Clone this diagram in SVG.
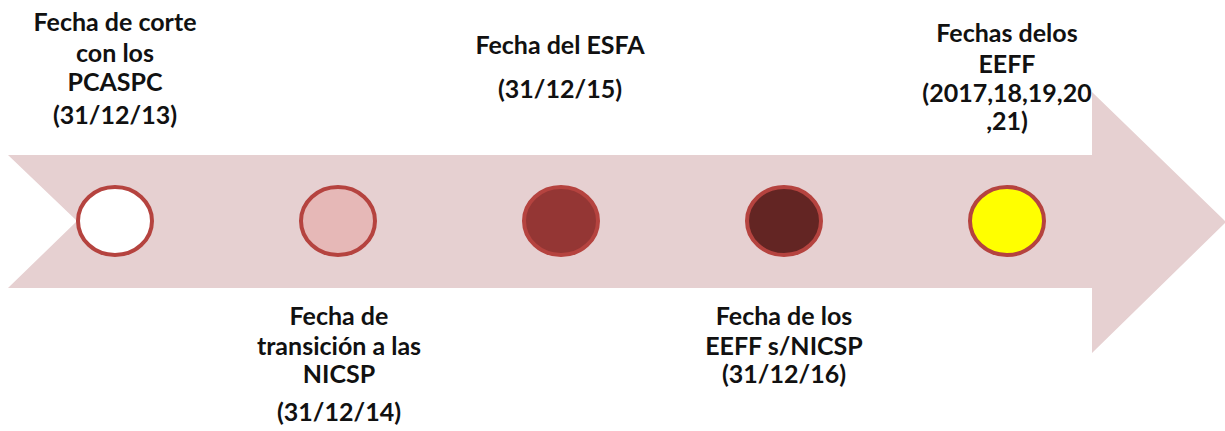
<svg xmlns="http://www.w3.org/2000/svg" width="1225" height="431" viewBox="0 0 1225 431">
<style>
  .lbl { font-family: Lato, "Open Sans", "Liberation Sans", sans-serif; font-weight: bold; font-size: 25px; fill: #111; text-anchor: middle; }
  .dot { stroke: #b5433f; stroke-width: 4; }
</style>
<rect width="1225" height="431" fill="#ffffff"/>
<g id="arrow">
  <polygon points="8,155 1092,155 1092,92 1226,222 1092,353 1092,288 8,288 77,221" fill="#e6d0d1"/>
</g>
<g id="connectors"></g>
<g id="node1">
  <ellipse class="dot" cx="115" cy="221" rx="37" ry="34" fill="#ffffff"/>
  <text class="lbl" x="115" y="31">Fecha de corte</text>
  <text class="lbl" x="115" y="62">con los</text>
  <text class="lbl" x="115" y="91">PCASPC</text>
  <text class="lbl" x="115" y="124">(31/12/13)</text>
</g>
<g id="node2">
  <ellipse class="dot" cx="338" cy="221" rx="37" ry="34" fill="#e6b8b7"/>
  <text class="lbl" x="339" y="325">Fecha de</text>
  <text class="lbl" x="339" y="355">transición a las</text>
  <text class="lbl" x="339" y="383">NICSP</text>
  <text class="lbl" x="339" y="421">(31/12/14)</text>
</g>
<g id="node3">
  <ellipse class="dot" cx="561" cy="221" rx="37" ry="34" fill="#943634"/>
  <text class="lbl" x="560" y="54">Fecha del ESFA</text>
  <text class="lbl" x="560" y="98">(31/12/15)</text>
</g>
<g id="node4">
  <ellipse class="dot" cx="784" cy="221" rx="37" ry="34" fill="#632523"/>
  <text class="lbl" x="784" y="325">Fecha de los</text>
  <text class="lbl" x="784" y="355">EEFF s/NICSP</text>
  <text class="lbl" x="784" y="383">(31/12/16)</text>
</g>
<g id="node5">
  <ellipse class="dot" cx="1007" cy="221" rx="37" ry="34" fill="#ffff00"/>
  <text class="lbl" x="1007" y="42">Fechas delos</text>
  <text class="lbl" x="1007" y="73">EEFF</text>
  <text class="lbl" x="1007" y="102">(2017,18,19,20</text>
  <text class="lbl" x="1007" y="130">,21)</text>
</g>
</svg>
